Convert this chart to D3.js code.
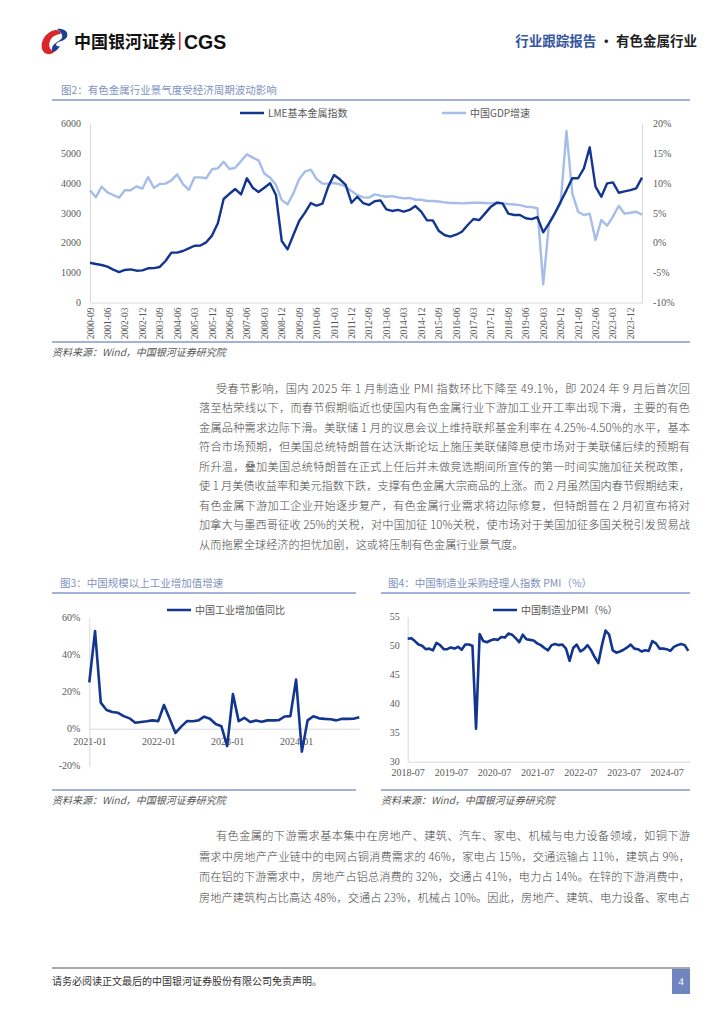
<!DOCTYPE html>
<html><head><meta charset="utf-8">
<script src="https://cdn.jsdelivr.net/npm/d3@7"></script>
<style>
html,body{margin:0;padding:0;background:#fff;}
svg{display:block;}
</style></head>
<body>
<svg id="page" width="724" height="1024"></svg>
<script>
// ---------------- DATA ----------------
const lmeCategories = [
 "2000-09","2000-12",
 "2001-03","2001-06","2001-09","2001-12","2002-03","2002-06","2002-09","2002-12",
 "2003-03","2003-06","2003-09","2003-12","2004-03","2004-06","2004-09","2004-12",
 "2005-03","2005-06","2005-09","2005-12","2006-03","2006-06","2006-09","2006-12",
 "2007-03","2007-06","2007-09","2007-12","2008-03","2008-06","2008-09","2008-12",
 "2009-03","2009-06","2009-09","2009-12","2010-03","2010-06","2010-09","2010-12",
 "2011-03","2011-06","2011-09","2011-12","2012-03","2012-06","2012-09","2012-12",
 "2013-03","2013-06","2013-09","2013-12","2014-03","2014-06","2014-09","2014-12",
 "2015-03","2015-06","2015-09","2015-12","2016-03","2016-06","2016-09","2016-12",
 "2017-03","2017-06","2017-09","2017-12","2018-03","2018-06","2018-09","2018-12",
 "2019-03","2019-06","2019-09","2019-12","2020-03","2020-06","2020-09","2020-12",
 "2021-03","2021-06","2021-09","2021-12","2022-03","2022-06","2022-09","2022-12",
 "2023-03","2023-06","2023-09","2023-12","2024-03","2024-06"
];
const lmeTickLabels = ["2000-09","2001-06","2002-03","2002-12","2003-09","2004-06","2005-03","2005-12",
 "2006-09","2007-06","2008-03","2008-12","2009-09","2010-06","2011-03","2011-12","2012-09","2013-06",
 "2014-03","2014-12","2015-09","2016-06","2017-03","2017-12","2018-09","2019-06","2020-03","2020-12",
 "2021-09","2022-06","2023-03","2023-12"];
const lmeIndex = [1330,1290,1255,1200,1100,1020,1090,1110,1065,1075,1145,1150,1190,1390,1670,1670,1725,1815,1900,1910,2015,2240,2650,3465,3640,3800,3620,4160,3845,3700,3845,3990,3600,
 2060,1780,2260,2730,3010,3330,3240,3310,3880,4270,4125,3935,3340,3540,3330,3265,3390,3420,3120,3065,3100,3040,3100,3230,3040,2750,2750,2405,2260,2205,2270,
 2370,2595,2795,2760,2985,3210,3340,3320,2975,2930,2930,2820,2790,2860,2350,2650,2985,3375,3755,4160,4160,4490,5195,3880,3540,3990,4020,3675,3720,3765,3820,4180];
const gdpGrowth = [8.8,7.6,9.4,8.45,8.0,7.55,8.8,8.8,9.45,9.05,11.0,9.2,9.85,9.9,10.45,11.45,9.8,8.85,10.95,10.95,10.8,12.3,12.45,13.55,12.35,12.55,13.7,14.8,14.25,13.8,11.6,10.9,9.7,
 7.16,6.43,8.27,10.67,11.9,12.23,10.67,9.9,9.9,10.0,9.78,9.4,8.67,8.0,7.6,7.55,8.1,7.88,7.7,7.8,7.6,7.44,7.5,7.2,7.2,7.0,6.99,6.9,6.77,6.66,6.65,
 6.6,6.65,6.7,6.7,6.65,6.6,6.77,6.6,6.49,6.4,6.3,6.04,5.96,5.77,-6.96,3.25,5.0,6.6,18.7,8.27,5.2,4.65,4.87,0.46,3.8,2.86,4.37,6.2,4.87,5.03,5.2,4.7];
const lmeLeftTicks = [0,1000,2000,3000,4000,5000,6000];
const lmeRightTicks = [-10,-5,0,5,10,15,20];

const indMonths = [
 "2021-01","2021-02","2021-03","2021-04","2021-05","2021-06","2021-07","2021-08","2021-09","2021-10","2021-11","2021-12",
 "2022-01","2022-02","2022-03","2022-04","2022-05","2022-06","2022-07","2022-08","2022-09","2022-10","2022-11","2022-12",
 "2023-01","2023-02","2023-03","2023-04","2023-05","2023-06","2023-07","2023-08","2023-09","2023-10","2023-11","2023-12",
 "2024-01","2024-02","2024-03","2024-04","2024-05","2024-06","2024-07","2024-08","2024-09","2024-10","2024-11","2024-12"];
const indGrowth = [25.0,52.8,14.1,10.1,9.0,8.6,6.8,5.6,3.2,3.6,4.0,4.5,
 4.1,12.8,5.4,-2.3,1.1,4.1,4.0,4.5,6.5,5.4,2.5,1.3,
 -9.4,18.7,4.1,5.9,3.6,4.4,3.7,4.5,4.5,4.6,6.6,6.8,
 26.6,-12.4,4.5,6.7,5.6,5.3,5.1,4.5,5.4,5.3,5.4,6.2];
const indTickLabels = ["2021-01","2022-01","2023-01","2024-01"];
const indYTicks = [-20,0,20,40,60];

const pmiMonths = [
 "2018-07","2018-08","2018-09","2018-10","2018-11","2018-12",
 "2019-01","2019-02","2019-03","2019-04","2019-05","2019-06","2019-07","2019-08","2019-09","2019-10","2019-11","2019-12",
 "2020-01","2020-02","2020-03","2020-04","2020-05","2020-06","2020-07","2020-08","2020-09","2020-10","2020-11","2020-12",
 "2021-01","2021-02","2021-03","2021-04","2021-05","2021-06","2021-07","2021-08","2021-09","2021-10","2021-11","2021-12",
 "2022-01","2022-02","2022-03","2022-04","2022-05","2022-06","2022-07","2022-08","2022-09","2022-10","2022-11","2022-12",
 "2023-01","2023-02","2023-03","2023-04","2023-05","2023-06","2023-07","2023-08","2023-09","2023-10","2023-11","2023-12",
 "2024-01","2024-02","2024-03","2024-04","2024-05","2024-06","2024-07","2024-08","2024-09","2024-10","2024-11","2024-12",
 "2025-01"];
const pmiValues = [51.2,51.3,50.8,50.2,50.0,49.4,
 49.5,49.2,50.5,50.1,49.4,49.4,49.7,49.5,49.8,49.3,50.2,50.2,
 50.0,35.7,52.0,50.8,50.6,50.9,51.1,51.0,51.5,51.4,52.1,51.9,
 51.3,50.6,51.9,51.1,51.0,50.9,50.4,50.1,49.6,49.2,50.1,50.3,
 50.1,50.2,49.5,47.4,49.6,50.2,49.0,49.4,50.1,49.2,48.0,47.0,
 50.1,52.6,51.9,49.2,48.8,49.0,49.3,49.7,50.2,49.5,49.4,49.0,
 49.2,49.1,50.8,50.4,49.5,49.5,49.4,49.1,49.8,50.1,50.3,50.1,
 49.1];
const pmiTickLabels = ["2018-07","2019-07","2020-07","2021-07","2022-07","2023-07","2024-07"];
const pmiYTicks = [30,35,40,45,50,55];

const para1 = [
 "受春节影响，国内 2025 年 1 月制造业 PMI 指数环比下降至 49.1%，即 2024 年 9 月后首次回",
 "落至枯荣线以下，而春节假期临近也使国内有色金属行业下游加工业开工率出现下滑，主要的有色",
 "金属品种需求边际下滑。美联储 1 月的议息会议上维持联邦基金利率在 4.25%-4.50%的水平，基本",
 "符合市场预期，但美国总统特朗普在达沃斯论坛上施压美联储降息使市场对于美联储后续的预期有",
 "所升温，叠加美国总统特朗普在正式上任后并未做竞选期间所宣传的第一时间实施加征关税政策，",
 "使 1 月美债收益率和美元指数下跌，支撑有色金属大宗商品的上涨。而 2 月虽然国内春节假期结束，",
 "有色金属下游加工企业开始逐步复产，有色金属行业需求将边际修复，但特朗普在 2 月初宣布将对",
 "加拿大与墨西哥征收 25%的关税，对中国加征 10%关税，使市场对于美国加征多国关税引发贸易战",
 "从而拖累全球经济的担忧加剧，这或将压制有色金属行业景气度。"
];
const para2 = [
 "有色金属的下游需求基本集中在房地产、建筑、汽车、家电、机械与电力设备领域，如铜下游",
 "需求中房地产产业链中的电网占铜消费需求的 46%，家电占 15%，交通运输占 11%，建筑占 9%，",
 "而在铝的下游需求中，房地产占铝总消费的 32%，交通占 41%，电力占 14%。在锌的下游消费中，",
 "房地产建筑构占比高达 48%，交通占 23%，机械占 10%。因此，房地产、建筑、电力设备、家电占"
];

// ---------------- STYLE ----------------
const DARK = "#12358f", LIGHT = "#a5bde8";
const TITLE_C = "#8193c0", RULE_C = "#a3b2d8", AXIS_C = "#d9d9d9", TXT = "#595959";
const SERIF = "'Liberation Serif','Times New Roman',serif";
const CJK = "'Noto Sans CJK SC','Noto Sans',sans-serif";

const svg = d3.select("#page");

// ---------------- HEADER ----------------
const logo = svg.append("g").attr("transform","translate(40,29)");
logo.append("path").attr("fill","#d9262c")
 .attr("d","M15,1 C6,3 0,12 2,20 C4,26 11,27 15,22 C10,22 8,17 10,12 C12,7 17,5 21,5 C20,2 18,0.5 15,1 Z");
logo.append("path").attr("fill","#1d3f94")
 .attr("d","M17,0 C24,-1 29,3 27,8 C25,12 19,12 17,14 C15,16 17,18 20,17 C17,23 11,25 12,19 C13,14 20,12 22,9 C23,6 21,3 17,0 Z");
svg.append("text").attr("x",74).attr("y",48).attr("font-family",CJK).attr("font-weight",700)
 .attr("font-size",17).attr("fill","#111").text("中国银河证券");
svg.append("rect").attr("x",179).attr("y",32).attr("width",1.5).attr("height",18).attr("fill","#d9262c");
svg.append("text").attr("x",184).attr("y",48.5).attr("font-family","'Liberation Sans',Arial,sans-serif").attr("font-weight",700)
 .attr("font-size",19.5).attr("fill","#111").text("CGS");
const hdr = svg.append("text").attr("x",697).attr("y",46).attr("text-anchor","end")
 .attr("font-family",CJK).attr("font-weight",700).attr("font-size",13.5);
hdr.append("tspan").attr("fill","#3556a0").text("行业跟踪报告");
hdr.append("tspan").attr("fill","#222").text(" · 有色金属行业");

// helpers
function chartTitle(x, y, text){
  svg.append("text").attr("x",x).attr("y",y+4).attr("font-family",CJK).attr("font-size",10.5)
   .attr("fill",TITLE_C).text(text);
}
function rule(x1,x2,y,w,c){
  svg.append("line").attr("x1",x1).attr("x2",x2).attr("y1",y).attr("y2",y)
   .attr("stroke",c||RULE_C).attr("stroke-width",w||2);
}
function source(x,y){
  svg.append("text").attr("x",x).attr("y",y+4).attr("font-family",CJK).attr("font-size",10)
   .attr("font-style","italic").attr("fill","#555").text("资料来源：Wind，中国银河证券研究院");
}
function legendItem(x, y, color, label){
  svg.append("line").attr("x1",x).attr("x2",x+24).attr("y1",y).attr("y2",y)
   .attr("stroke",color).attr("stroke-width",2.5);
  svg.append("text").attr("x",x+28).attr("y",y+3.5).attr("font-family",CJK).attr("font-size",10)
   .attr("fill",TXT).text(label);
}

// ---------------- CHART 1 ----------------
chartTitle(61, 90, "图2：有色金属行业景气度受经济周期波动影响");
rule(52, 690, 100);
legendItem(240, 113, DARK, "LME基本金属指数");
legendItem(442, 113, LIGHT, "中国GDP增速");

const x1 = d3.scalePoint().domain(lmeCategories).range([90, 642]);
const yL = d3.scaleLinear().domain([0,6000]).range([302.5,123.3]);
const yR = d3.scaleLinear().domain([-10,20]).range([302.5,123.3]);

const c1 = svg.append("g");
const axL = c1.append("g").attr("transform","translate(90,0)")
  .call(d3.axisLeft(yL).tickValues(lmeLeftTicks).tickSize(0).tickPadding(9).tickFormat(d3.format("d")));
const axR = c1.append("g").attr("transform","translate(642,0)")
  .call(d3.axisRight(yR).tickValues(lmeRightTicks).tickSize(0).tickPadding(11).tickFormat(d=>d+"%"));
const axB = c1.append("g").attr("transform","translate(0,302.5)")
  .call(d3.axisBottom(x1).tickValues(lmeTickLabels).tickSize(0).tickPadding(0));
[axL,axR,axB].forEach(a=>{
  a.select(".domain").attr("stroke",AXIS_C).attr("stroke-width",1);
  a.selectAll("text").attr("font-family",SERIF).attr("font-size",10).attr("fill",TXT);
});
axB.selectAll("text").attr("font-size",9.5).attr("text-anchor","end")
  .attr("transform",d=>"rotate(-90)").attr("x",-5).attr("y",0).attr("dy","0.32em");

c1.append("path").datum(gdpGrowth).attr("fill","none").attr("stroke",LIGHT).attr("stroke-width",2.4)
  .attr("stroke-linejoin","round")
  .attr("d", d3.line().x((d,i)=>x1(lmeCategories[i])).y(d=>yR(d)));
c1.append("path").datum(lmeIndex).attr("fill","none").attr("stroke",DARK).attr("stroke-width",2.4)
  .attr("stroke-linejoin","round")
  .attr("d", d3.line().x((d,i)=>x1(lmeCategories[i])).y(d=>yL(d)));

rule(52, 690, 342);
source(52, 352);

// ---------------- BODY TEXT ----------------
function paragraph(lines, y0, step, justifyLast){
  lines.forEach((t,i)=>{
    const xs = i===0 ? 216 : 199;
    const tx = svg.append("text").attr("x",xs).attr("y",y0+i*step+4)
      .attr("font-family",CJK).attr("font-weight",300).attr("font-size",11.2).attr("fill","#474747").text(t);
    if(i < lines.length-1 || justifyLast){
      tx.attr("textLength", 690-xs).attr("lengthAdjust","spacing");
    }
  });
}
paragraph(para1, 389, 19.45, false);
paragraph(para2, 836, 20.5, true);

// ---------------- CHART 3 ----------------
chartTitle(60, 582.5, "图3：中国规模以上工业增加值增速");
rule(52, 356, 593);
legendItem(167, 610, DARK, "中国工业增加值同比");

const x3 = d3.scalePoint().domain(indMonths).range([89.3, 359.3]);
const y3 = d3.scaleLinear().domain([-20,60]).range([765.7,617.7]);
const c3 = svg.append("g");
const ax3L = c3.append("g").attr("transform","translate(89.3,0)")
  .call(d3.axisLeft(y3).tickValues(indYTicks).tickSize(0).tickPadding(9).tickFormat(d=>d+"%"));
const ax3B = c3.append("g").attr("transform","translate(0,"+y3(0)+")")
  .call(d3.axisBottom(x3).tickValues(indTickLabels).tickSize(0).tickPadding(9));
[ax3L,ax3B].forEach(a=>{
  a.select(".domain").attr("stroke",AXIS_C).attr("stroke-width",1);
  a.selectAll("text").attr("font-family",SERIF).attr("font-size",10).attr("fill",TXT);
});
c3.append("path").datum(indGrowth).attr("fill","none").attr("stroke",DARK).attr("stroke-width",2.6)
  .attr("stroke-linejoin","round")
  .attr("d", d3.line().x((d,i)=>x3(indMonths[i])).y(d=>y3(d)));
rule(52, 356, 790);
source(52, 799.5);

// ---------------- CHART 4 ----------------
chartTitle(388, 582.5, "图4：中国制造业采购经理人指数 PMI（%）");
rule(381, 690, 593);
legendItem(493, 610, DARK, "中国制造业PMI（%）");

const x4 = d3.scalePoint().domain(pmiMonths).range([407.7, 688.3]);
const y4 = d3.scaleLinear().domain([30,55]).range([761.7,616.7]);
const c4 = svg.append("g");
const ax4L = c4.append("g").attr("transform","translate(407.7,0)")
  .call(d3.axisLeft(y4).tickValues(pmiYTicks).tickSize(0).tickPadding(8));
const ax4B = c4.append("g").attr("transform","translate(0,761.7)")
  .call(d3.axisBottom(x4).tickValues(pmiTickLabels).tickSize(0).tickPadding(7));
c4.append("line").attr("x1",688.3).attr("x2",690).attr("y1",761.7).attr("y2",761.7).attr("stroke",AXIS_C);
[ax4L,ax4B].forEach(a=>{
  a.select(".domain").attr("stroke",AXIS_C).attr("stroke-width",1);
  a.selectAll("text").attr("font-family",SERIF).attr("font-size",10).attr("fill",TXT);
});
c4.append("path").datum(pmiValues).attr("fill","none").attr("stroke",DARK).attr("stroke-width",2.6)
  .attr("stroke-linejoin","round")
  .attr("d", d3.line().x((d,i)=>x4(pmiMonths[i])).y(d=>y4(d)));
rule(381, 690, 790);
source(381, 799.5);

// ---------------- FOOTER ----------------
rule(52, 690, 968, 1.5, "#8c8c8c");
svg.append("text").attr("x",52).attr("y",985).attr("font-family",CJK).attr("font-size",10)
  .attr("fill","#333").text("请务必阅读正文最后的中国银河证券股份有限公司免责声明。");
svg.append("rect").attr("x",672).attr("y",969).attr("width",18).attr("height",25).attr("fill","#6f85c0");
svg.append("text").attr("x",681).attr("y",985).attr("text-anchor","middle").attr("font-family",SERIF)
  .attr("font-size",11).attr("fill","#fff").text("4");
</script>
</body></html>
